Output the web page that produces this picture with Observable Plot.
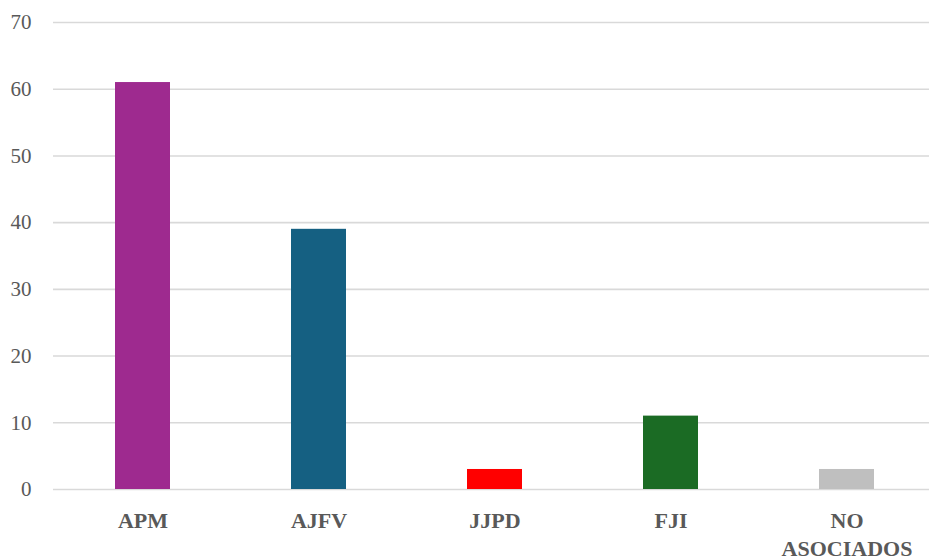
<!DOCTYPE html>
<html>
<head>
<meta charset="utf-8">
<script src="https://cdn.jsdelivr.net/npm/d3@7"></script>
<script src="https://cdn.jsdelivr.net/npm/@observablehq/plot@0.6"></script>
<style>
  html, body { margin: 0; padding: 0; background: #ffffff; }
</style>
</head>
<body>
<div id="chart"></div>
<script>
const categories = ["APM", "AJFV", "JJPD", "FJI", "NO ASOCIADOS"];
const values = [61, 39, 3, 11, 3];
const barColors = ["#9E2A8F", "#156082", "#FF0000", "#1B6B24", "#BFBFBF"];
const yTicks = [0, 10, 20, 30, 40, 50, 60, 70];
const tickLabels = {"NO ASOCIADOS": "NO\nASOCIADOS"};

const data = categories.map((c, i) => ({category: c, value: values[i], color: barColors[i]}));

const chart = Plot.plot({
  width: 929,
  height: 559,
  marginLeft: 53,
  marginRight: 0,
  marginTop: 22,
  marginBottom: 70,
  style: {fontFamily: "'Liberation Serif', serif", background: "#ffffff"},
  x: {domain: categories, range: [53.5, 935], paddingInner: 0.688, paddingOuter: 0.344},
  y: {domain: [0, 70]},
  marks: [
    Plot.ruleY(yTicks, {stroke: "#d9d9d9", strokeWidth: 1.6}),
    Plot.barY(data, {x: "category", y: "value", fill: "color"}),
    Plot.axisY({ticks: yTicks, tickSize: 0, tickPadding: 22, fontSize: 21, fill: "#595959", label: null}),
    Plot.axisX({tickSize: 0, tickPadding: 19, fontSize: 22, fontWeight: "bold", fill: "#595959", label: null,
      lineHeight: 1.25, lineAnchor: "top", tickFormat: d => tickLabels[d] ?? d})
  ]
});
document.getElementById("chart").appendChild(chart);
</script>
</body>
</html>
